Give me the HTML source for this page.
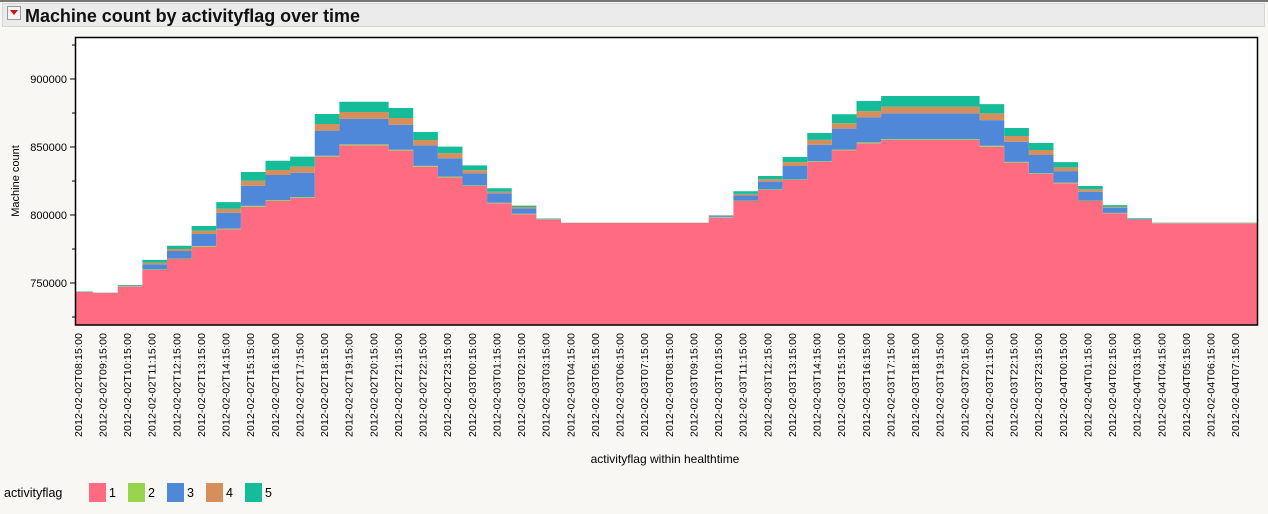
<!DOCTYPE html>
<html><head><meta charset="utf-8"><style>
body{margin:0;background:#f8f7f3;font-family:"Liberation Sans",sans-serif;}
svg{display:block}
</style></head><body>
<svg width="1268" height="514" xmlns="http://www.w3.org/2000/svg" id="chart">
<rect x="0" y="0" width="1268" height="2" fill="#777"/>
<rect x="2.5" y="3.5" width="1262" height="23" fill="#ebebeb" stroke="#d4d4d4"/>
<g>
<rect x="7.5" y="6.5" width="13" height="13" fill="#f4f4f4" stroke="#999"/>
<polygon points="10,10 18,10 14,15" fill="#d01010"/>
</g>
<text x="25" y="22" font-size="18" font-weight="bold" fill="#111" textLength="335">Machine count by activityflag over time</text>
<rect x="75.5" y="37.5" width="1182" height="287.5" fill="#fff"/>
<g id="bars"></g>
<rect x="75.5" y="37.5" width="1182" height="287.5" fill="none" stroke="#000" stroke-width="1.5"/>
<g id="yaxis"></g>
<g id="xaxis"></g>
<text transform="translate(19,181) rotate(-90)" text-anchor="middle" font-size="11" fill="#000">Machine count</text>
<text x="665" y="463" text-anchor="middle" font-size="12" fill="#000">activityflag within healthtime</text>
<g id="legend"></g>
</svg>
<script>
const NS="http://www.w3.org/2000/svg";
const categories=["2012-02-02T08:15:00","2012-02-02T09:15:00","2012-02-02T10:15:00","2012-02-02T11:15:00","2012-02-02T12:15:00","2012-02-02T13:15:00","2012-02-02T14:15:00","2012-02-02T15:15:00","2012-02-02T16:15:00","2012-02-02T17:15:00","2012-02-02T18:15:00","2012-02-02T19:15:00","2012-02-02T20:15:00","2012-02-02T21:15:00","2012-02-02T22:15:00","2012-02-02T23:15:00","2012-02-03T00:15:00","2012-02-03T01:15:00","2012-02-03T02:15:00","2012-02-03T03:15:00","2012-02-03T04:15:00","2012-02-03T05:15:00","2012-02-03T06:15:00","2012-02-03T07:15:00","2012-02-03T08:15:00","2012-02-03T09:15:00","2012-02-03T10:15:00","2012-02-03T11:15:00","2012-02-03T12:15:00","2012-02-03T13:15:00","2012-02-03T14:15:00","2012-02-03T15:15:00","2012-02-03T16:15:00","2012-02-03T17:15:00","2012-02-03T18:15:00","2012-02-03T19:15:00","2012-02-03T20:15:00","2012-02-03T21:15:00","2012-02-03T22:15:00","2012-02-03T23:15:00","2012-02-04T00:15:00","2012-02-04T01:15:00","2012-02-04T02:15:00","2012-02-04T03:15:00","2012-02-04T04:15:00","2012-02-04T05:15:00","2012-02-04T06:15:00","2012-02-04T07:15:00"];
const flag1=[743400,742600,747300,759600,767600,776700,789500,806100,810300,812500,842900,851200,851200,847300,835500,827700,821300,808600,800500,796300,794100,794100,794100,794100,794100,794100,798000,810300,818400,825700,839000,847600,852700,855100,855100,855100,855100,850200,838500,830100,823300,810300,801200,796300,793900,793900,793900,793900];
const flag2=[200,200,300,400,400,500,500,600,600,600,700,700,700,700,600,600,500,400,400,300,100,100,100,100,100,100,300,400,400,500,500,600,700,700,700,700,700,700,600,600,500,400,400,300,200,200,200,200];
const flag3=[100,100,200,3800,5500,8800,11700,14800,18500,18000,18400,18900,18900,18400,15100,13400,8800,7000,4000,400,50,50,50,50,50,50,900,3800,5700,9800,12200,15300,18400,18900,18900,18900,18900,18900,14800,13400,8500,6400,3700,600,100,100,100,100];
const flag4=[0,0,300,1200,1500,2400,2900,3700,3700,4400,4900,4900,4900,4900,3900,3700,2400,1200,1000,300,50,50,50,50,50,50,300,1000,1800,2900,3500,4000,4600,4900,4900,4900,4900,4900,4200,3700,2700,1800,700,300,50,50,50,50];
const flag5=[100,100,400,2000,2400,3500,4900,6400,6800,7400,7400,7600,7600,7400,5900,4900,3500,2500,1000,200,50,50,50,50,50,50,300,2000,2400,3700,5100,6600,7400,7900,7900,7900,7900,6800,5900,5100,3900,2400,1300,300,100,100,100,100];
const seriesNames=["1","2","3","4","5"];
const yTickValues=[900000,850000,800000,750000];
const yMinorValues=[925000,875000,825000,775000,725000];
const colors=["#ff6b80","#98d44e","#4f88d8","#d68e5a","#14bc99"];
const series=[flag1,flag2,flag3,flag4,flag5];
const X0=75.5,X1=1257.5,YB=325,YT=37.5;
const n=categories.length, step=(X1-X0)/n;
function yScale(v){return 79+(900000-v)*68/50000;}
function colLeft(i){return Math.max(X0,X0+step*i-7);}
function colRight(i){return i===n-1?X1:Math.min(X1,X0+step*(i+1)-7);}
const bars=document.getElementById('bars');
for(let s=0;s<series.length;s++){
  let top=[],bot=[];
  for(let i=0;i<n;i++){
    let base=0;for(let k=0;k<s;k++)base+=series[k][i];
    let tv=base+series[s][i];
    top.push([colLeft(i),yScale(tv)],[colRight(i),yScale(tv)]);
    bot.push([colLeft(i),s===0?YB:yScale(base)],[colRight(i),s===0?YB:yScale(base)]);
  }
  const pts=top.concat(bot.reverse()).map(p=>p[0].toFixed(2)+","+Math.min(YB,p[1]).toFixed(2)).join(" ");
  const pg=document.createElementNS(NS,'polygon');
  pg.setAttribute('points',pts);
  pg.setAttribute('fill',colors[s]);
  
  
  bars.appendChild(pg);
}
const ya=document.getElementById('yaxis');
yTickValues.forEach(v=>{
  const y=yScale(v);
  const l=document.createElementNS(NS,'line');
  l.setAttribute('x1',70);l.setAttribute('x2',75.5);l.setAttribute('y1',y);l.setAttribute('y2',y);l.setAttribute('stroke','#000');
  
  
  ya.appendChild(l);
  const t=document.createElementNS(NS,'text');
  t.setAttribute('x',67);t.setAttribute('y',y+4);t.setAttribute('text-anchor','end');t.setAttribute('font-size','11');
  t.textContent=String(v);
  
  
  ya.appendChild(t);
});
yMinorValues.forEach(v=>{
  const y=yScale(v);
  const l=document.createElementNS(NS,'line');
  l.setAttribute('x1',72);l.setAttribute('x2',75.5);l.setAttribute('y1',y);l.setAttribute('y2',y);l.setAttribute('stroke','#000');
  
  
  ya.appendChild(l);
});
const xa=document.getElementById('xaxis');
categories.forEach((c,i)=>{
  const x=X0+step*i+2.5+3.8;
  const t=document.createElementNS(NS,'text');
  t.setAttribute('transform','translate('+x.toFixed(2)+',333) rotate(-90)');
  t.setAttribute('text-anchor','end');t.setAttribute('font-size','10.5');
  t.setAttribute('textLength','104');
  t.textContent=c;
  
  
  xa.appendChild(t);
});
const lg=document.getElementById('legend');
const lt=document.createElementNS(NS,'text');
lt.setAttribute('x',4);lt.setAttribute('y',497);lt.setAttribute('font-size','12.5');
lt.textContent='activityflag';


lg.appendChild(lt);
const lx=[89,128,167,206,245];
seriesNames.forEach((nm,i)=>{
  const g=document.createElementNS(NS,'g');
  
  
  const r=document.createElementNS(NS,'rect');
  r.setAttribute('x',lx[i]);r.setAttribute('y',483);r.setAttribute('width',17);r.setAttribute('height',19);r.setAttribute('fill',colors[i]);
  g.appendChild(r);
  const t=document.createElementNS(NS,'text');
  t.setAttribute('x',lx[i]+20);t.setAttribute('y',497);t.setAttribute('font-size','12.5');
  t.textContent=nm;
  g.appendChild(t);
  lg.appendChild(g);
});
</script>
</body></html>
